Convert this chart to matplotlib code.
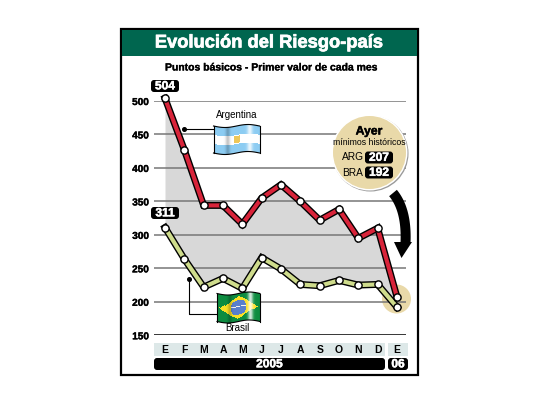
#!/usr/bin/env python
"""Evolucion del Riesgo-pais: Argentina and Brasil, Jan 2005 - Jan 2006."""

import numpy as np
import matplotlib
matplotlib.use("Agg")
import matplotlib.pyplot as plt
import matplotlib.patheffects as pe
from matplotlib.patches import Rectangle, FancyBboxPatch, Circle, Polygon

plt.rcParams['font.family'] = ['Liberation Sans', 'DejaVu Sans']

MONTHS = ['E', 'F', 'M', 'A', 'M', 'J', 'J', 'A', 'S', 'O', 'N', 'D', 'E']
ARGENTINA = [504, 427, 344, 344, 316, 355, 375, 350, 322, 338, 295, 310, 207]
BRASIL = [311, 264, 222, 235, 220, 266, 249, 226, 224, 232, 225, 226, 192]
Y_TICKS = [150, 200, 250, 300, 350, 400, 450, 500]

W, H = 540, 405
GREEN = '#00664f'
RED = '#d8243a'
OLIVE = '#cfdc8c'
CREAM = '#e9d9a9'
BAND = '#dde8e8'


def heavy(text, width=0.35, color=None):
    # the original lettering is a bit fatter than Liberation bold
    text.set_path_effects([pe.withStroke(linewidth=width,
                                         foreground=color or text.get_color())])
    return text


def wavy_flag(ax, x0, y0, w, h, colors):
    # colors is a small image (rows, cols, 3), bent with a sine so it looks like a flag
    rows, cols = colors.shape[:2]
    xs = np.linspace(x0, x0 + w, cols + 1)
    ys = np.linspace(y0, y0 + h, rows + 1)
    xx, yy = np.meshgrid(xs, ys)
    yy = yy + 1.5 * np.sin((xx - x0) / w * 2 * np.pi)
    u = (np.arange(cols) + 0.5) / cols
    shine = np.exp(-((u - 0.78) / 0.06) ** 2)[None, :, None]
    dark = 1 - 0.22 * np.exp(-((u - 0.3) / 0.05) ** 2)[None, :, None]
    img = np.clip((colors * dark) * (1 - 0.8 * shine) + 0.8 * shine, 0, 1)
    ax.pcolormesh(xx, yy, img, shading='flat', zorder=6, rasterized=True)
    for line_x, line_y in ((xx[0], yy[0]), (xx[-1], yy[-1]), (xx[:, 0], yy[:, 0]), (xx[:, -1], yy[:, -1])):
        ax.plot(line_x, line_y, color='black', lw=0.8, zorder=7)


def pill(ax, x0, y0, w, h, text, size=8.6):
    ax.add_patch(FancyBboxPatch((x0 + 2, y0 + 2), w - 4, h - 4,
                                boxstyle="round,pad=2,rounding_size=3",
                                fc='black', ec='none', zorder=8))
    heavy(ax.text(x0 + w / 2, y0 + h / 2 + 0.3, text, color='white', fontsize=size,
                  fontweight='bold', ha='center', va='center', zorder=9))


def curved_arrow(ax):
    t = np.linspace(0, 1, 30)[:, None]
    p0, p1, p2 = np.array([393, 193.0]), np.array([407, 210.0]), np.array([405.5, 243.0])
    mid = (1 - t) ** 2 * p0 + 2 * t * (1 - t) * p1 + t ** 2 * p2
    tang = 2 * (1 - t) * (p1 - p0) + 2 * t * (p2 - p1)
    norm = np.column_stack([-tang[:, 1], tang[:, 0]]) / np.linalg.norm(tang, axis=1)[:, None]
    half = 5.0
    shaft = np.vstack([mid + norm * half, (mid - norm * half)[::-1]])
    ax.add_patch(Polygon(shaft, fc='black', ec='none', zorder=6))
    ax.add_patch(Polygon([(394, 242), (412, 242), (401.5, 258)], fc='black', ec='none', zorder=6))


def main() -> None:
    fig = plt.figure(figsize=(W / 100, H / 100), dpi=100)

    # data axes: 500 at y=101, 150 at y=335, first month x=165, last x=397
    left, right = 154, 406
    top, bottom = 101, 335.3
    ax = fig.add_axes([left / W, 1 - bottom / H, (right - left) / W, (bottom - top) / H])
    step = (397 - 165) / 12
    xpos = np.arange(len(MONTHS))
    ax.set_xlim((left - 165) / step, (right - 165) / step)
    ax.set_ylim(150, 500)
    ax.patch.set_alpha(0)
    for side in ax.spines.values():
        side.set_visible(False)
    ax.set_xticks([])
    ax.set_yticks(Y_TICKS)
    ax.set_yticklabels([str(v) for v in Y_TICKS], fontsize=7.2, fontweight='bold')
    ax.tick_params(axis='y', length=0, pad=3.6)
    for lab in ax.get_yticklabels():
        heavy(lab, 0.25)
    ax.set_zorder(3)

    for v in Y_TICKS:
        color = 'black' if v == 150 else '#777777'
        ax.axhline(v, color=color, lw=1.1, zorder=2)
    ax.fill_between(xpos, ARGENTINA, BRASIL, color='#d8d8d8', lw=0, zorder=1)

    ax.plot(xpos, BRASIL, color='black', lw=5, zorder=4, clip_on=False, solid_joinstyle='miter')
    ax.plot(xpos, BRASIL, color=OLIVE, lw=3, zorder=4.1, clip_on=False, solid_joinstyle='miter')
    ax.plot(xpos, ARGENTINA, color='black', lw=5, zorder=4.2, clip_on=False, solid_joinstyle='miter')
    ax.plot(xpos, ARGENTINA, color=RED, lw=3, zorder=4.3, clip_on=False, solid_joinstyle='miter')
    for series in (BRASIL, ARGENTINA):
        ax.plot(xpos, series, 'o', ms=5.2, mfc='white', mec='black', mew=1.0,
                zorder=5, clip_on=False)

    # overlay in image pixels for the panel furniture
    bg = fig.add_axes([0, 0, 1, 1], zorder=1)
    bg.set_xlim(0, W)
    bg.set_ylim(H, 0)
    bg.axis('off')
    bg.add_patch(Rectangle((121, 29), 297, 346, fc='white', ec='black', lw=1.6))
    bg.add_patch(Rectangle((122, 30), 295, 26, fc=GREEN, ec='none'))
    bg.add_patch(Circle((396.5, 299), 14.5, fc=CREAM, ec='none'))
    heavy(bg.text(269, 43, 'Evolución del Riesgo-país', color='white', fontsize=13.2,
                  fontweight='bold', ha='center', va='center'), 0.5)
    heavy(bg.text(271, 67.5, 'Puntos básicos - Primer valor de cada mes', fontsize=7.5,
                  fontweight='bold', ha='center', va='center'), 0.2)

    # month strip and year bar
    bg.add_patch(Rectangle((154, 343), 231, 13, fc=BAND, ec='none'))
    bg.add_patch(Rectangle((388, 343), 20, 13, fc=BAND, ec='none'))
    for x, m in zip(xpos, MONTHS):
        bg.text(165 + x * step, 350, m, fontsize=7.5, fontweight='bold',
                ha='center', va='center')
    pill(bg, 154, 358, 231, 12, '2005')
    pill(bg, 388, 358, 20, 12, '06')

    fg = fig.add_axes([0, 0, 1, 1], zorder=6)
    fg.set_xlim(0, W)
    fg.set_ylim(H, 0)
    fg.axis('off')
    fg.patch.set_alpha(0)

    pill(fg, 151, 80, 28, 12, '504')
    pill(fg, 151, 207, 28, 12, '311')

    # Argentina flag and leader
    fg.plot([184, 214], [129, 129], color='black', lw=0.8, zorder=5)
    fg.plot([184], [129], 'o', color='black', ms=2.6, zorder=5)
    fg.text(237, 115.5, 'Argentina', fontsize=7, ha='center', va='center')
    sky = np.array([0.55, 0.80, 0.95])
    arg = np.ones((27, 46, 3))
    arg[:9] = sky
    arg[18:] = sky
    arg[10:17, 20:26] = [0.93, 0.78, 0.35]
    wavy_flag(fg, 213.5, 126, 46, 27, arg)

    # Brasil flag and leader
    fg.plot([189, 189, 217], [279, 313.5, 313.5], color='black', lw=0.8, zorder=5)
    fg.plot([189], [279], 'o', color='black', ms=2.6, zorder=5)
    fg.text(237, 328, 'Brasil', fontsize=7, ha='center', va='center')
    rows, cols = 29, 43
    yy, xx = np.mgrid[0:rows, 0:cols]
    cx, cy = (cols - 1) / 2, (rows - 1) / 2
    bra = np.ones((rows, cols, 3)) * np.array([0.05, 0.55, 0.25])
    bra[np.abs(xx - cx) / 19.5 + np.abs(yy - cy) / 12 < 1] = [0.98, 0.88, 0.15]
    r2 = (xx - cx) ** 2 + (yy - cy) ** 2
    bra[r2 < 8 ** 2] = [0.35, 0.50, 0.80]
    bra[(r2 < 8 ** 2) & (np.abs(yy - cy + 1) < 1)] = [0.95, 0.95, 0.95]
    wavy_flag(fg, 217, 293.5, 43, 28, bra)

    # Ayer callout
    fg.add_patch(Circle((370.5, 153.5), 38, fc='#9a9a9a', ec='none', zorder=5.9))
    fg.add_patch(Circle((369.5, 152.5), 38, fc='white', ec='none', zorder=6))
    fg.add_patch(Circle((369.5, 152.5), 36.5, fc=CREAM, ec='none', zorder=6.1))
    heavy(fg.text(369, 131.5, 'Ayer', fontsize=8.8, fontweight='bold', ha='center',
                  va='center', zorder=9), 0.3)
    fg.text(369, 142.3, 'mínimos históricos', fontsize=6.3, ha='center', va='center', zorder=9)
    fg.text(353, 157.5, 'ARG', fontsize=7.3, ha='center', va='center', zorder=9)
    fg.text(353, 172.5, 'BRA', fontsize=7.3, ha='center', va='center', zorder=9)
    pill(fg, 365, 151.5, 28, 12, '207')
    pill(fg, 365, 166.5, 28, 12, '192')

    # big curved arrow down to the last point
    curved_arrow(fg)

    fig.savefig('out.png', dpi=100, facecolor='white')


if __name__ == "__main__":
    main()
